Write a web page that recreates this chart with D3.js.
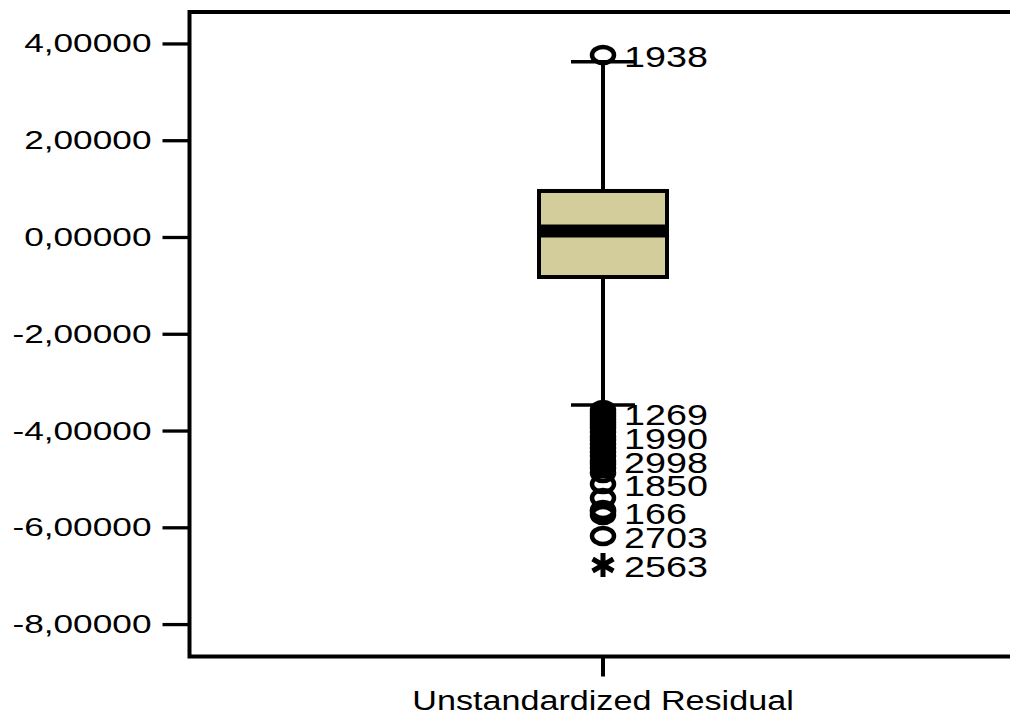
<!DOCTYPE html>
<html>
<head>
<meta charset="utf-8">
<script src="https://cdn.jsdelivr.net/npm/d3@7"></script>
<style>
  html, body { margin: 0; padding: 0; background: #fff; }
  svg { display: block; }
  text { font-family: "Liberation Sans", Arial, sans-serif; fill: #000; }
</style>
</head>
<body>
<svg id="chart" width="1010" height="715"></svg>
<script>
// Box plot summary for the unstandardized residuals
const categories = ["Unstandardized Residual"];
const whiskerLow = [-3.472];
const quartile1 = [-0.827];
const medians = [0.124];
const quartile3 = [0.951];
const whiskerHigh = [3.623];

// Labelled outliers (case numbers) and their residuals
const outlierIds = ["1938", "1269", "1990", "2998", "1850", "166", "2703"];
const outlierValues = [3.761, -3.638, -4.13, -4.63, -5.105, -5.68, -6.18];

// Further outliers drawn without labels (their labels would overlap)
const unlabelledOutliers = [-3.576, -3.70, -3.762, -3.824, -3.886, -3.948, -4.03,
  -4.196, -4.278, -4.361, -4.444, -4.526, -4.692, -4.774, -4.878,
  -5.394, -5.642, -5.746];

// Extreme values
const extremeIds = ["2563"];
const extremeValues = [-6.779];

const yTicks = [4, 2, 0, -2, -4, -6, -8];

const svg = d3.select("#chart");
const plot = { left: 189.5, top: 12, right: 1016, bottom: 656.5 };

const y = d3.scaleLinear().domain([-8.67, 4.65]).range([plot.bottom, plot.top]);
const x = d3.scalePoint().domain(categories).range([603, 603]);

const locale = d3.formatLocale({ decimal: ",", thousands: ".", grouping: [3], currency: ["", ""], minus: "-" });
const fmt = locale.format(".5f");

// Y axis
const yAxis = d3.axisLeft(y).tickValues(yTicks).tickFormat(fmt).tickSize(27).tickPadding(11);
const gy = svg.append("g").attr("transform", `translate(${plot.left},0)`).call(yAxis);
gy.select(".domain").remove();
gy.selectAll(".tick line").attr("stroke", "#000").attr("stroke-width", 3.3);
gy.selectAll(".tick text")
  .attr("font-size", 26.5)
  .attr("font-family", "Liberation Sans, Arial, sans-serif")
  .attr("fill", "#000")
  .each(function () {
    const t = d3.select(this);
    const xx = +t.attr("x");
    t.attr("transform", `translate(${xx},0) scale(1.33,1) translate(${-xx},0)`);
  });

// Category axis tick and label
categories.forEach(c => {
  svg.append("line")
    .attr("x1", x(c)).attr("x2", x(c))
    .attr("y1", plot.bottom).attr("y2", plot.bottom + 20)
    .attr("stroke", "#000").attr("stroke-width", 4);
  svg.append("text")
    .attr("x", 0).attr("y", 0)
    .attr("text-anchor", "middle")
    .attr("font-size", 28)
    .attr("transform", `translate(${x(c)},710) scale(1.22,1)`)
    .text(c);
});

// Frame
svg.append("rect")
  .attr("x", plot.left).attr("y", plot.top)
  .attr("width", plot.right - plot.left).attr("height", plot.bottom - plot.top)
  .attr("fill", "none").attr("stroke", "#000").attr("stroke-width", 4);

const boxW = 128, capW = 64;

categories.forEach((c, i) => {
  const g = svg.append("g");
  const xc = x(c);
  // whiskers
  g.append("line").attr("x1", xc).attr("x2", xc)
    .attr("y1", y(whiskerHigh[i])).attr("y2", y(quartile3[i]))
    .attr("stroke", "#000").attr("stroke-width", 4);
  g.append("line").attr("x1", xc).attr("x2", xc)
    .attr("y1", y(quartile1[i])).attr("y2", y(whiskerLow[i]))
    .attr("stroke", "#000").attr("stroke-width", 4);
  [whiskerHigh[i], whiskerLow[i]].forEach(v => {
    g.append("line").attr("x1", xc - capW / 2).attr("x2", xc + capW / 2)
      .attr("y1", y(v)).attr("y2", y(v))
      .attr("stroke", "#000").attr("stroke-width", 3.5);
  });
  // box
  g.append("rect")
    .attr("x", xc - boxW / 2).attr("y", y(quartile3[i]))
    .attr("width", boxW).attr("height", y(quartile1[i]) - y(quartile3[i]))
    .attr("fill", "#d2cd9a").attr("stroke", "#000").attr("stroke-width", 4);
  // median
  g.append("line").attr("x1", xc - boxW / 2).attr("x2", xc + boxW / 2)
    .attr("y1", y(medians[i])).attr("y2", y(medians[i]))
    .attr("stroke", "#000").attr("stroke-width", 13);
});

// Outlier circles
const xc0 = x(categories[0]);
const outG = svg.append("g");
unlabelledOutliers.concat(outlierValues).forEach(v => {
  outG.append("ellipse")
    .attr("cx", xc0).attr("cy", y(v))
    .attr("rx", 11).attr("ry", 8)
    .attr("fill", "none").attr("stroke", "#000").attr("stroke-width", 4.5);
});

// Extreme values as asterisks
extremeValues.forEach(v => {
  const yy = y(v);
  const r = 12;
  const p = d3.path();
  p.moveTo(xc0, yy - r); p.lineTo(xc0, yy + r);
  const dx = r * Math.cos(Math.PI / 6), dy = r * Math.sin(Math.PI / 6);
  p.moveTo(xc0 - dx, yy - dy); p.lineTo(xc0 + dx, yy + dy);
  p.moveTo(xc0 - dx, yy + dy); p.lineTo(xc0 + dx, yy - dy);
  outG.append("path").attr("d", p.toString())
    .attr("stroke", "#000").attr("stroke-width", 5).attr("fill", "none");
});

// Case labels
const labels = outlierIds.map((id, i) => ({ id, v: outlierValues[i] }))
  .concat(extremeIds.map((id, i) => ({ id, v: extremeValues[i] })));
labels.forEach(d => {
  svg.append("text")
    .attr("x", 0).attr("y", 0)
    .attr("dy", "0.36em")
    .attr("font-size", 29)
    .attr("transform", `translate(624,${y(d.v) + 2}) scale(1.3,1)`)
    .text(d.id);
});
</script>
</body>
</html>
